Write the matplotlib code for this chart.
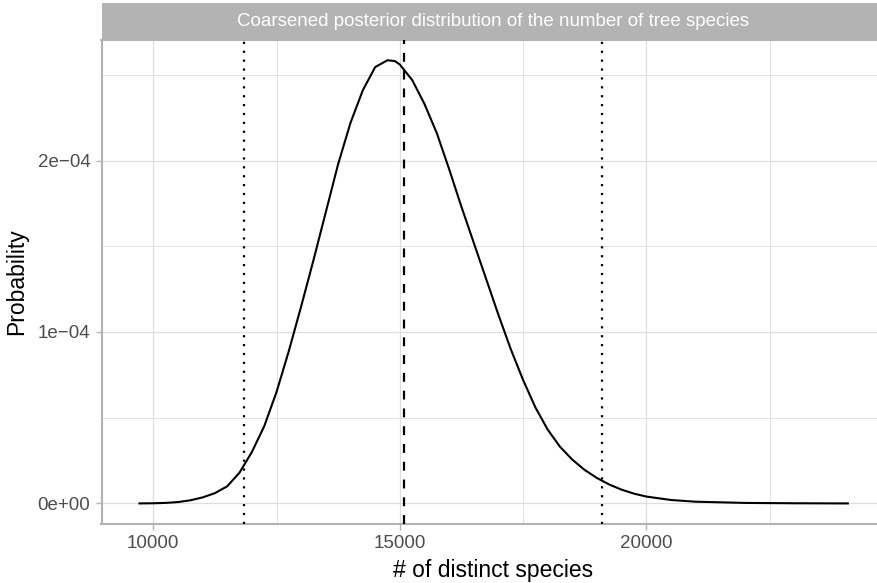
import matplotlib
matplotlib.use("Agg")
import matplotlib.pyplot as plt
from matplotlib.ticker import FixedLocator, FixedFormatter

plt.rcParams['font.family'] = ['Liberation Sans', 'DejaVu Sans']

# ---- data ----
species = [9700, 10000, 10250, 10500, 10750, 11000, 11250, 11500, 11750, 12000,
           12250, 12500, 12750, 13000, 13250, 13500, 13750, 14000, 14250, 14500,
           14750, 14900, 15000, 15250, 15500, 15750, 16000, 16250, 16500, 16750,
           17000, 17250, 17500, 17750, 18000, 18250, 18500, 18750, 19000, 19250,
           19500, 19750, 20000, 20500, 21000, 22000, 23000, 24107]
probability = [0.0, 0.001e-4, 0.003e-4, 0.008e-4, 0.018e-4, 0.035e-4, 0.06e-4, 0.10e-4, 0.18e-4, 0.30e-4,
               0.45e-4, 0.65e-4, 0.89e-4, 1.15e-4, 1.42e-4, 1.70e-4, 1.98e-4, 2.22e-4, 2.41e-4, 2.545e-4,
               2.585e-4, 2.58e-4, 2.56e-4, 2.47e-4, 2.33e-4, 2.16e-4, 1.95e-4, 1.73e-4, 1.52e-4, 1.31e-4,
               1.10e-4, 0.90e-4, 0.72e-4, 0.56e-4, 0.43e-4, 0.33e-4, 0.255e-4, 0.195e-4, 0.148e-4, 0.11e-4,
               0.08e-4, 0.057e-4, 0.04e-4, 0.02e-4, 0.01e-4, 0.003e-4, 0.001e-4, 0.0]
interval_lines = [11850, 19100]   # dotted
point_estimate = 15080            # dashed

x_ticks = [10000, 15000, 20000]
x_tick_labels = ["10000", "15000", "20000"]
y_ticks = [0.0, 1e-4, 2e-4]
y_tick_labels = ["0e+00", "1e\u221204", "2e\u221204"]
x_minor = [12500, 17500, 22500]
y_minor = [0.5e-4, 1.5e-4, 2.5e-4]

title = "Coarsened posterior distribution of the number of tree species"
xlabel = "# of distinct species"
ylabel = "Probability"

# ---- figure ----
W, H = 877, 583
fig = plt.figure(figsize=(W / 100, H / 100), dpi=100)

px_left, px_right, px_top, px_bottom = 101.5, 885.0, 40.0, 524.0
ax = fig.add_axes([px_left / W, 1 - px_bottom / H,
                   (px_right - px_left) / W, (px_bottom - px_top) / H])

grid_c = "#DEDEDE"
border_c = "#B3B3B3"

ax.set_xlim(8950, 24840)
ax.set_ylim(-0.12e-4, 2.703e-4)

ax.xaxis.set_major_locator(FixedLocator(x_ticks))
ax.xaxis.set_major_formatter(FixedFormatter(x_tick_labels))
ax.yaxis.set_major_locator(FixedLocator(y_ticks))
ax.yaxis.set_major_formatter(FixedFormatter(y_tick_labels))
ax.xaxis.set_minor_locator(FixedLocator(x_minor))
ax.yaxis.set_minor_locator(FixedLocator(y_minor))

ax.grid(True, which="major", color=grid_c, linewidth=0.9, zorder=0)
ax.grid(True, which="minor", color=grid_c, linewidth=0.6, zorder=0)
ax.set_axisbelow(True)

for s in ax.spines.values():
    s.set_color(border_c)
    s.set_linewidth(1.5)

ax.tick_params(axis="both", which="major", color=border_c, width=1.0, length=4.0,
               labelsize=13.5, labelcolor="#4D4D4D", pad=4)
ax.tick_params(axis="both", which="minor", length=0)

ax.plot(species, probability, color="black", linewidth=1.5,
        solid_joinstyle="round", solid_capstyle="butt", zorder=3)

for xv in interval_lines:
    ax.axvline(xv, color="black", linewidth=1.6, linestyle=(0, (1, 3)),
               dash_capstyle="butt", zorder=3)
ax.axvline(point_estimate, color="black", linewidth=1.6, linestyle=(0, (4, 4)),
           dash_capstyle="butt", zorder=3)

ax.set_xlabel(xlabel, fontsize=16.5, color="black", labelpad=5)
ax.set_ylabel(ylabel, fontsize=16.5, color="black", labelpad=7)

# facet strip
strip_top, strip_bottom = 3.0, 39.5
sax = fig.add_axes([px_left / W, 1 - strip_bottom / H,
                    (px_right - px_left) / W, (strip_bottom - strip_top) / H])
sax.set_facecolor("#B3B3B3")
for s in sax.spines.values():
    s.set_visible(False)
sax.set_xticks([])
sax.set_yticks([])
sax.text(0.5, 0.5, title, ha="center", va="center", color="white",
         fontsize=13.5, transform=sax.transAxes)

fig.savefig("out.png", dpi=100)
